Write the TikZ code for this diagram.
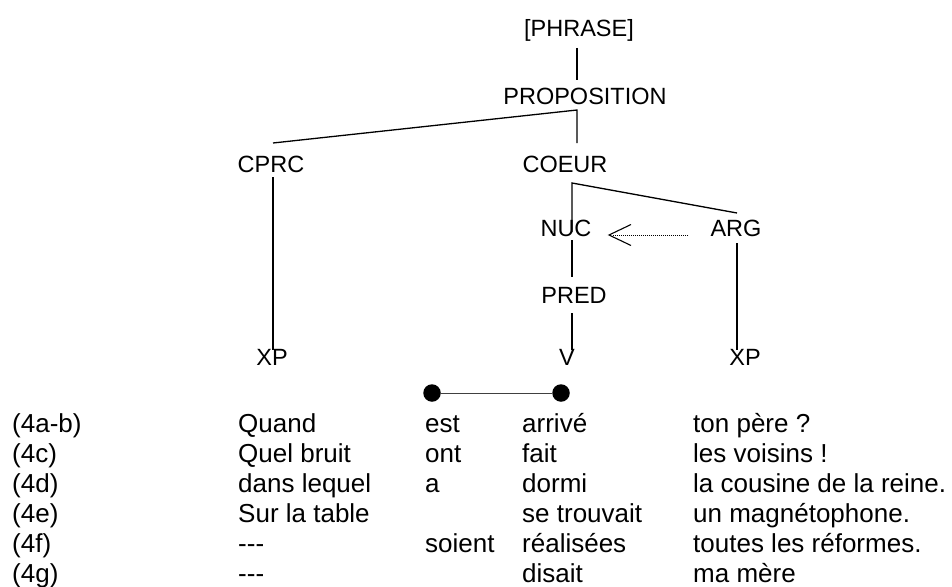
\documentclass[tikz,border=0pt]{standalone}
\usepackage{fontspec}
\setmainfont{Liberation Sans}[Ligatures=NoCommon]
\newcommand{\threedash}{-{}-{}-}
\begin{document}
\begin{tikzpicture}[x=1pt,y=-1pt,
  lbl/.style={inner sep=0pt,anchor=base,font=\fontsize{23.5}{28}\selectfont},
  row/.style={inner sep=0pt,anchor=base west,font=\fontsize{26}{30}\selectfont},
  edge/.style={line width=1.3pt},
  dotline/.style={line width=1pt,dash pattern=on 1pt off 1pt},
  bullet/.style={circle,fill=black,inner sep=0pt,minimum size=17.5pt}]
\useasboundingbox (0,0) rectangle (952,586);
% tree labels
\node[lbl] (phrase) at (579,37) {[PHRASE]};
\node[lbl] (prop) at (585,104) {PROPOSITION};
\node[lbl] (cprc) at (271,172) {CPRC};
\node[lbl] (coeur) at (565,172) {COEUR};
\node[lbl] (nuc) at (566,236) {NUC};
\node[lbl] (arg) at (736,236) {ARG};
\node[lbl] (pred) at (574,303) {PRED};
\node[lbl] (xpl) at (272,365) {XP};
\node[lbl] (v) at (567,365) {V};
\node[lbl] (xpr) at (745,365) {XP};
% junctions and line ends
\coordinate (p1) at (577,48);
\coordinate (p2) at (577,80);
\coordinate (j1) at (577,110);
\coordinate (cl) at (273,143);
\coordinate (cr) at (577,143);
\coordinate (c1) at (273,177);
\coordinate (c2) at (273,350);
\coordinate (j2) at (572,183);
\coordinate (n1) at (572,232);
\coordinate (ar) at (737,213);
\coordinate (n2) at (572,240);
\coordinate (n3) at (572,277);
\coordinate (pr1) at (572,313);
\coordinate (pr2) at (572,350);
\coordinate (a1) at (737,243);
\coordinate (a2) at (737,350);
\coordinate (tip) at (609,235);
\coordinate (tail) at (688,235);
% connectors
\draw[edge] (p1) -- (p2);
\draw[edge] (cl) -- (j1) -- (cr);
\draw[edge] (c1) -- (c2);
\draw[edge] (n1) -- (j2) -- (ar);
\draw[edge] (n2) -- (n3);
\draw[edge] (pr1) -- (pr2);
\draw[edge] (a1) -- (a2);
\draw[dotline] (tail) -- ([xshift=3pt]tip);
\draw[edge,line width=1.1pt] ([shift={(22,-10.5)}]tip) -- (tip) -- ([shift={(22,10.5)}]tip);
% dots
\node[bullet] (d1) at (432,393) {};
\node[bullet] (d2) at (561,393) {};
\draw[line width=0.9pt,black!75] (d1) -- (d2);
% rows
\foreach \i/\a/\b/\c/\d/\e in {
  0/(4a-b)/Quand/est/arrivé/ton père ?,
  1/(4c)/Quel bruit/ont/fait/les voisins !,
  2/(4d)/dans lequel/a/dormi/la cousine de la reine.,
  3/(4e)/Sur la table//se trouvait/un magnétophone.,
  4/(4f)/\threedash/soient/réalisées/toutes les réformes.,
  5/(4g)/\threedash//disait/ma mère}{
  \node[row] (r\i a) at (12,{432+30*\i}) {\a};
  \node[row] (r\i b) at (238,{432+30*\i}) {\b};
  \node[row] (r\i c) at (425,{432+30*\i}) {\c};
  \node[row] (r\i d) at (522,{432+30*\i}) {\d};
  \node[row] (r\i e) at (693,{432+30*\i}) {\e};
}
\end{tikzpicture}
\end{document}
